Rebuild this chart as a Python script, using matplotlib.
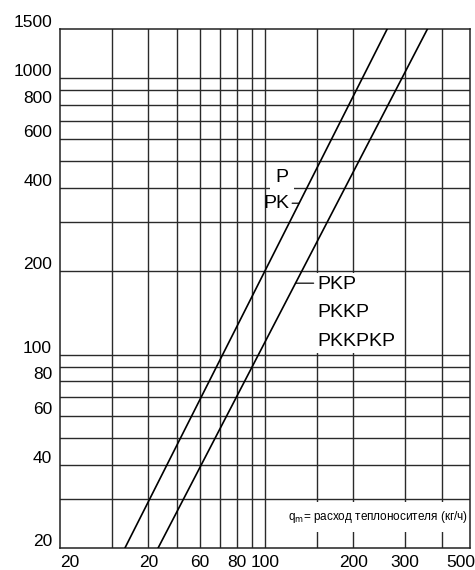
import numpy as np
import matplotlib
matplotlib.use("Agg")
import matplotlib.pyplot as plt
import matplotlib.transforms as mtransforms

plt.rcParams['font.family'] = ['Liberation Sans', 'DejaVu Sans']

# расход теплоносителя, кг/ч  /  потери давления
flow_p = [33.3, 261.0]
dp_p = [20.0, 1500.0]
flow_pkp = [43.2, 358.0]
dp_pkp = [20.0, 1500.0]

x_grid = [30, 40, 50, 60, 70, 80, 90, 100, 150, 200, 300, 400]
y_grid = [30, 40, 50, 60, 70, 80, 90, 100, 200, 300, 400, 500, 600, 700, 800, 900, 1000]

x_ticks = [20, 40, 60, 80, 100, 200, 300, 500]
x_labels = ['20', '20', '60', '80', '100', '200', '300', '500']
y_ticks = [20, 40, 60, 80, 100, 200, 400, 600, 800, 1000, 1500]
y_labels = ['20', '40', '60', '80', '100', '200', '400', '600', '800', '1000', '1500']

labels_p = ['P', 'PK']
labels_pkp = ['PKP', 'PKKP', 'PKKPKP']


def flow_at(dp, flows, dps):
    # точка на прямой в логарифмических координатах
    return 10 ** np.interp(np.log10(dp), np.log10(dps), np.log10(flows))


fig = plt.figure(figsize=(4.75, 5.7), dpi=100)
ax = fig.add_axes([60 / 475, 22 / 570, 410 / 475, 519 / 570])
ax.set_xscale('log')
ax.set_yscale('log')
ax.set_xlim(20, 500)
ax.set_ylim(20, 1500)
ax.set_xticks([])
ax.set_yticks([])
ax.minorticks_off()
for s in ax.spines.values():
    s.set_linewidth(1.1)
    s.set_color('#222222')

for v in x_grid:
    ax.axvline(v, color='#2a2a2a', lw=1.0, zorder=1)
for v in y_grid:
    ax.axhline(v, color='#2a2a2a', lw=1.0, zorder=1)

ax.plot(flow_p, dp_p, color='black', lw=1.2, zorder=4)
ax.plot(flow_pkp, dp_pkp, color='black', lw=1.2, zorder=4)

# подписи осей
px = fig.dpi_scale_trans
ytr = ax.get_yaxis_transform() + mtransforms.ScaledTranslation(-8 / 100, 2 / 100, px)
for v, s in zip(y_ticks, y_labels):
    ax.text(0, v, s, transform=ytr, ha='right', va='baseline', fontsize=12.5)

xtr = ax.get_xaxis_transform() + mtransforms.ScaledTranslation(0, -7 / 100, px)
xtr_last = ax.get_xaxis_transform() + mtransforms.ScaledTranslation(5 / 100, -7 / 100, px)
for i, (v, s) in enumerate(zip(x_ticks, x_labels)):
    if i == 0:
        ax.text(v, 0, s, transform=xtr, ha='left', va='top', fontsize=12.5)
    elif i == len(x_ticks) - 1:
        ax.text(v, 0, s, transform=xtr_last, ha='right', va='top', fontsize=12.5)
    else:
        ax.text(v, 0, s, transform=xtr, ha='center', va='top', fontsize=12.5)

# P / PK
ax.text(114.5, 437, labels_p[0], fontsize=14, ha='center', va='center',
        bbox=dict(facecolor='white', edgecolor='none', pad=4), zorder=3)
dp_pk = 352
ax.annotate(labels_p[1], xy=(flow_at(dp_pk, flow_p, dp_p), dp_pk),
            xytext=(-7, 0), textcoords='offset points', ha='right', va='center',
            fontsize=14, zorder=3,
            arrowprops=dict(arrowstyle='-', lw=1.0, color='#222222', shrinkA=0, shrinkB=0,
                            relpos=(0.92, 0.5)))

# PKP / PKKP / PKKPKP
dp_pkp_lab = 181
anchor = (flow_at(dp_pkp_lab, flow_pkp, dp_pkp), dp_pkp_lab)
ax.annotate('', xy=anchor, xytext=(13, 0), textcoords='offset points',
            arrowprops=dict(arrowstyle='-', lw=1.0, color='#222222', shrinkA=0, shrinkB=0))
ax.annotate('\n'.join(labels_pkp), xy=anchor, xytext=(16, 5.5), textcoords='offset points',
            ha='left', va='top', fontsize=14, linespacing=1.9,
            bbox=dict(facecolor='white', edgecolor='none', pad=2), zorder=3)

ax.text(0.995, 0.06, 'q$_\\mathrm{m}$= расход теплоносителя (кг/ч)', transform=ax.transAxes,
        ha='right', va='center', fontsize=8.5,
        bbox=dict(facecolor='white', edgecolor='none', pad=5), zorder=2.2)

fig.savefig('out.png', dpi=100)
